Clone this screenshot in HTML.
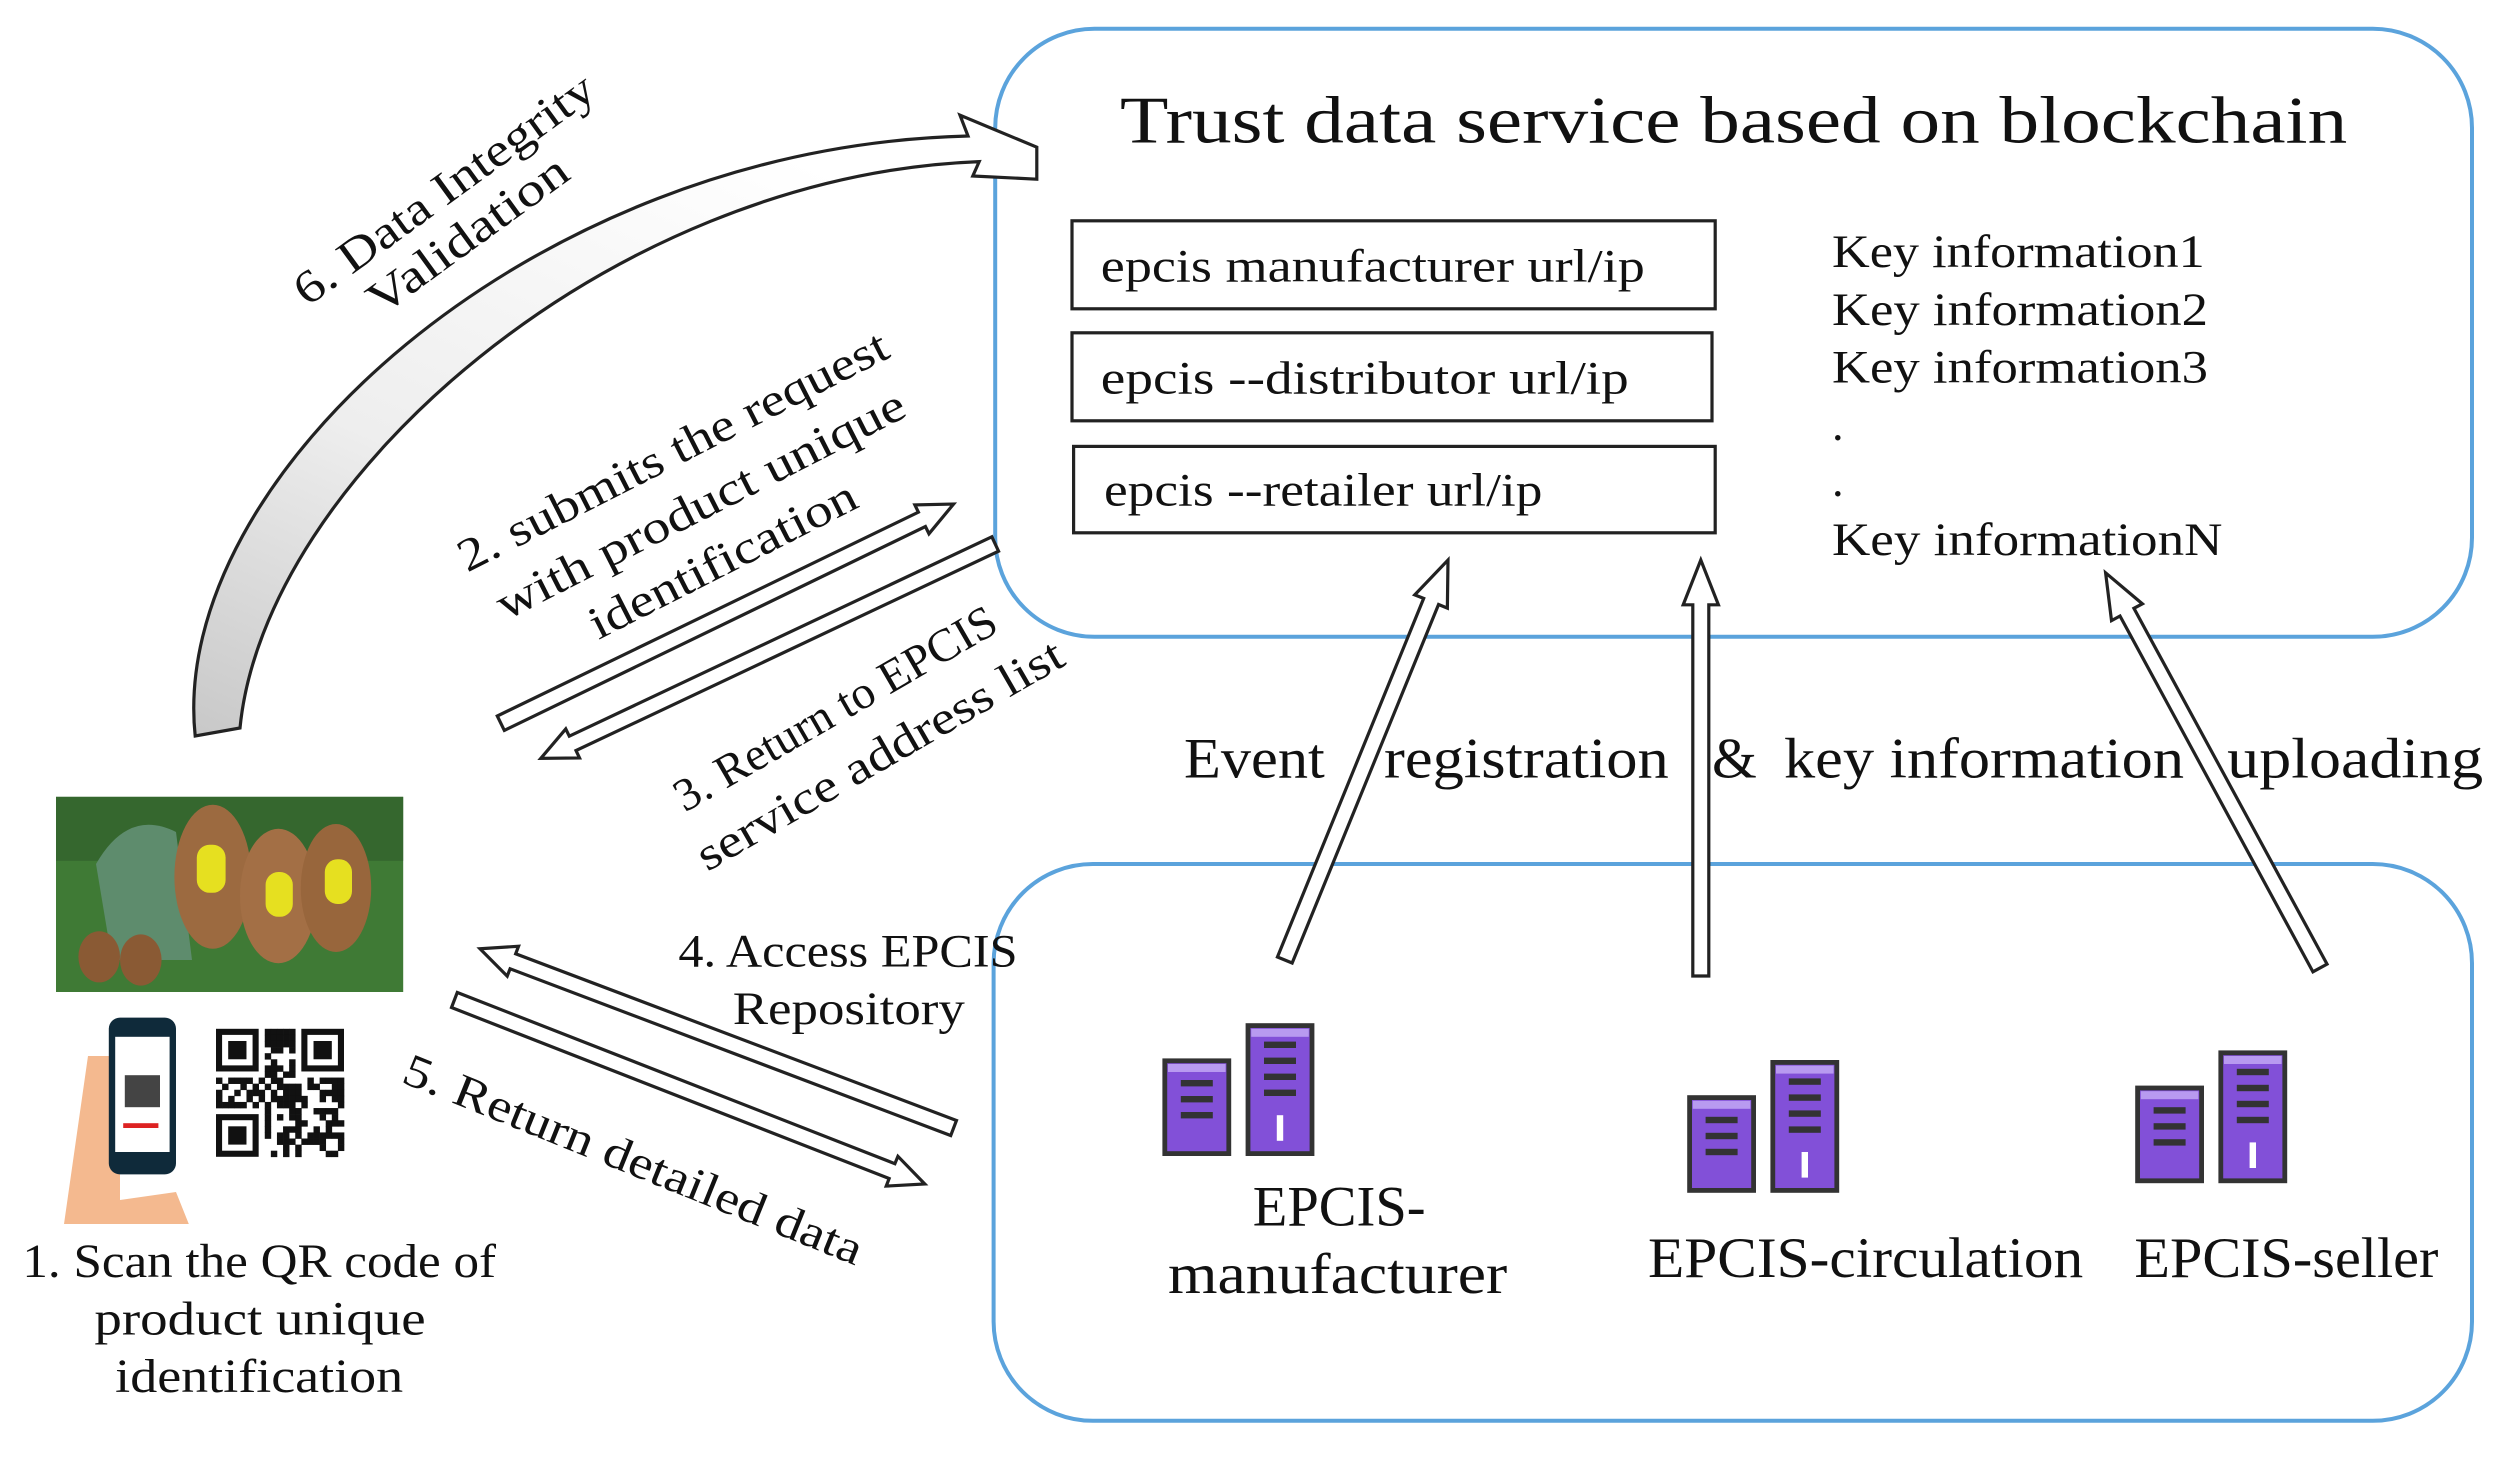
<!DOCTYPE html>
<html><head><meta charset="utf-8"><style>
html,body{margin:0;padding:0;background:#fff;}
svg{display:block;}
text{font-family:"Liberation Serif",serif;fill:#111;}
</style></head><body>
<svg id="s" width="2510" height="1459" viewBox="0 0 1568.75 911.875" xmlns="http://www.w3.org/2000/svg">
<defs>
<linearGradient id="cg" x1="0" y1="1" x2="0.6" y2="0">
<stop offset="0" stop-color="#c8c8c8"/><stop offset="0.45" stop-color="#eee"/><stop offset="1" stop-color="#fff"/>
</linearGradient>
</defs>
<rect x="622" y="18" width="923" height="380" rx="62" fill="none" stroke="#5ba3dc" stroke-width="2.5"/>
<rect x="621" y="540" width="924" height="348" rx="62" fill="none" stroke="#5ba3dc" stroke-width="2.5"/>
<text x="700" y="89" font-size="42" textLength="767" lengthAdjust="spacingAndGlyphs">Trust data service based on blockchain</text>
<rect x="670" y="138" width="402" height="55" fill="#fff" stroke="#222" stroke-width="2"/>
<rect x="670" y="208" width="400" height="55" fill="#fff" stroke="#222" stroke-width="2"/>
<rect x="671" y="279" width="401" height="54" fill="#fff" stroke="#222" stroke-width="2"/>
<text x="688" y="176" font-size="29" textLength="340" lengthAdjust="spacingAndGlyphs">epcis manufacturer url/ip</text>
<text x="688" y="246" font-size="29" textLength="330" lengthAdjust="spacingAndGlyphs">epcis --distributor  url/ip</text>
<text x="690" y="316" font-size="29" textLength="274" lengthAdjust="spacingAndGlyphs">epcis --retailer url/ip</text>
<g font-size="29">
<text x="1145" y="167" textLength="233" lengthAdjust="spacingAndGlyphs">Key information1</text>
<text x="1145" y="203" textLength="235" lengthAdjust="spacingAndGlyphs">Key information2</text>
<text x="1145" y="239" textLength="235" lengthAdjust="spacingAndGlyphs">Key information3</text>
<text x="1145" y="275">.</text>
<text x="1145" y="310">.</text>
<text x="1145" y="347" textLength="244" lengthAdjust="spacingAndGlyphs">Key informationN</text>
</g>
<g font-size="36">
<text x="740" y="486" textLength="88" lengthAdjust="spacingAndGlyphs">Event</text>
<text x="865" y="486" textLength="178" lengthAdjust="spacingAndGlyphs">registration</text>
<text x="1070" y="486">&amp;</text>
<text x="1115" y="486" textLength="250" lengthAdjust="spacingAndGlyphs">key information</text>
<text x="1392" y="486" textLength="160" lengthAdjust="spacingAndGlyphs">uploading</text>
</g>
<g id="arrows" fill="#fff" stroke="#222" stroke-width="2" stroke-linejoin="miter"></g>
<path d="M122,460 C105,300 330,92 605,85 L600,72 L648,92 L648,112 L608,110 L612,101 C380,110 165,300 150,455 Z" fill="url(#cg)" stroke="#222" stroke-width="2"/>
<g id="servers"></g>
<g font-size="36">
<text x="783" y="766" textLength="108" lengthAdjust="spacingAndGlyphs">EPCIS-</text>
<text x="730" y="808" textLength="212" lengthAdjust="spacingAndGlyphs">manufacturer</text>
<text x="1030" y="798" textLength="272" lengthAdjust="spacingAndGlyphs">EPCIS-circulation</text>
<text x="1334" y="798" textLength="190" lengthAdjust="spacingAndGlyphs">EPCIS-seller</text>
</g>
<rect x="35" y="498" width="217" height="122" fill="#3f7a35"/>
<rect x="35" y="498" width="217" height="40" fill="#2f5a2a" opacity="0.6"/>
<path d="M60,540 Q80,505 110,520 L120,600 L70,600 Z" fill="#5e8c6d"/>
<ellipse cx="133" cy="548" rx="24" ry="45" fill="#9c6a40"/>
<ellipse cx="174" cy="560" rx="24" ry="42" fill="#a36f45"/>
<ellipse cx="210" cy="555" rx="22" ry="40" fill="#98663c"/>
<ellipse cx="62" cy="598" rx="13" ry="16" fill="#8a5a34"/>
<ellipse cx="88" cy="600" rx="13" ry="16" fill="#8a5a34"/>
<rect x="123" y="528" width="18" height="30" rx="8" fill="#e6e020"/>
<rect x="166" y="545" width="17" height="28" rx="8" fill="#e6e020"/>
<rect x="203" y="537" width="17" height="28" rx="8" fill="#e6e020"/>
<path d="M55,660 L75,660 L75,750 L110,745 L118,765 L40,765 Z" fill="#f4b98f"/>
<rect x="68" y="636" width="42" height="98" rx="7" fill="#0f2a3a"/>
<rect x="72" y="648" width="34" height="72" fill="#fff"/>
<rect x="78" y="672" width="22" height="20" fill="#444"/>
<rect x="77" y="702" width="22" height="3" fill="#d22"/>
<g id="qr"></g>
<g font-size="30">
<text x="14" y="798" textLength="296" lengthAdjust="spacingAndGlyphs">1. Scan the QR code of</text>
<text x="59" y="834" textLength="207" lengthAdjust="spacingAndGlyphs">product unique</text>
<text x="72" y="870" textLength="180" lengthAdjust="spacingAndGlyphs">identification</text>
</g>
<g font-size="29">
<text transform="translate(192,192) rotate(-36)" textLength="225" lengthAdjust="spacingAndGlyphs">6. Data Integrity</text>
<text transform="translate(238,198) rotate(-36)" textLength="148" lengthAdjust="spacingAndGlyphs">Validation</text>
<text transform="translate(292,358) rotate(-27)" textLength="298" lengthAdjust="spacingAndGlyphs">2. submits the request</text>
<text transform="translate(316,388) rotate(-27)" textLength="283" lengthAdjust="spacingAndGlyphs">with product unique</text>
<text transform="translate(374,400) rotate(-27)" textLength="184" lengthAdjust="spacingAndGlyphs">identification</text>
<text transform="translate(428,508) rotate(-30)" textLength="228" lengthAdjust="spacingAndGlyphs">3. Return to EPCIS</text>
<text transform="translate(442,545) rotate(-30)" textLength="260" lengthAdjust="spacingAndGlyphs">service address list</text>
<text x="424" y="604" textLength="212" lengthAdjust="spacingAndGlyphs">4. Access EPCIS</text>
<text x="458" y="640" textLength="145" lengthAdjust="spacingAndGlyphs">Repository</text>
<text transform="translate(250,676) rotate(22)" textLength="307" lengthAdjust="spacingAndGlyphs">5. Return detailed data</text>
</g>
<script>
var NS="http://www.w3.org/2000/svg";
function el(parent,tag,attrs){var e=document.createElementNS(NS,tag);for(var k in attrs)e.setAttribute(k,attrs[k]);parent.appendChild(e);return e;}
var A=document.getElementById("arrows");
function arrow(x1,y1,x2,y2,w,hw,hl){
 var dx=x2-x1,dy=y2-y1,L=Math.hypot(dx,dy),ux=dx/L,uy=dy/L,px=-uy,py=ux;
 var bx=x2-ux*hl,by=y2-uy*hl;
 var pts=[[x1+px*w,y1+py*w],[bx+px*w,by+py*w],[bx+px*hw,by+py*hw],[x2,y2],[bx-px*hw,by-py*hw],[bx-px*w,by-py*w],[x1-px*w,y1-py*w]];
 el(A,"polygon",{points:pts.map(function(a){return a[0].toFixed(1)+","+a[1].toFixed(1)}).join(" ")});
}
arrow(803,600,905,350,5,11,28);
arrow(1063,610,1063,350,5,11,28);
arrow(1450,605,1316,358,5,11,28);
arrow(313,452,596,315,5,10,22);
arrow(622,340,338,474,5,10,22);
arrow(596,705,300,593,5,10,22);
arrow(284,625,578,740,5,10,22);
var S=document.getElementById("servers");
function server(x,y){
 el(S,"rect",{x:x,y:y+22,width:40,height:58,fill:"#8250d8",stroke:"#333","stroke-width":3});
 el(S,"rect",{x:x+52,y:y,width:40,height:80,fill:"#8250d8",stroke:"#333","stroke-width":3});
 el(S,"rect",{x:x+2,y:y+24,width:36,height:5,fill:"#b89af0"});
 el(S,"rect",{x:x+54,y:y+2,width:36,height:5,fill:"#b89af0"});
 for(var i=0;i<3;i++)el(S,"rect",{x:x+10,y:y+34+i*10,width:20,height:4,fill:"#333"});
 for(var i=0;i<4;i++)el(S,"rect",{x:x+62,y:y+10+i*10,width:20,height:4,fill:"#333"});
 el(S,"rect",{x:x+70,y:y+56,width:4,height:16,fill:"#fff"});
}
server(728,641);server(1056,664);server(1336,658);
(function(){
 var g=document.getElementById("qr"),x0=135,y0=643,s=80/21,seed=7;
 function r(){seed=(seed*9301+49297)%233280;return seed/233280;}
 for(var i=0;i<21;i++)for(var j=0;j<21;j++){
  if((i<8&&j<8)||(i>12&&j<8)||(i<8&&j>12))continue;
  if(r()<0.5)el(g,"rect",{x:x0+i*s,y:y0+j*s,width:s+0.2,height:s+0.2,fill:"#111"});
 }
 function finder(cx,cy){
  el(g,"rect",{x:x0+cx*s,y:y0+cy*s,width:7*s,height:7*s,fill:"#111"});
  el(g,"rect",{x:x0+(cx+1)*s,y:y0+(cy+1)*s,width:5*s,height:5*s,fill:"#fff"});
  el(g,"rect",{x:x0+(cx+2)*s,y:y0+(cy+2)*s,width:3*s,height:3*s,fill:"#111"});
 }
 finder(0,0);finder(14,0);finder(0,14);
})();
</script>
</svg>
</body></html>
